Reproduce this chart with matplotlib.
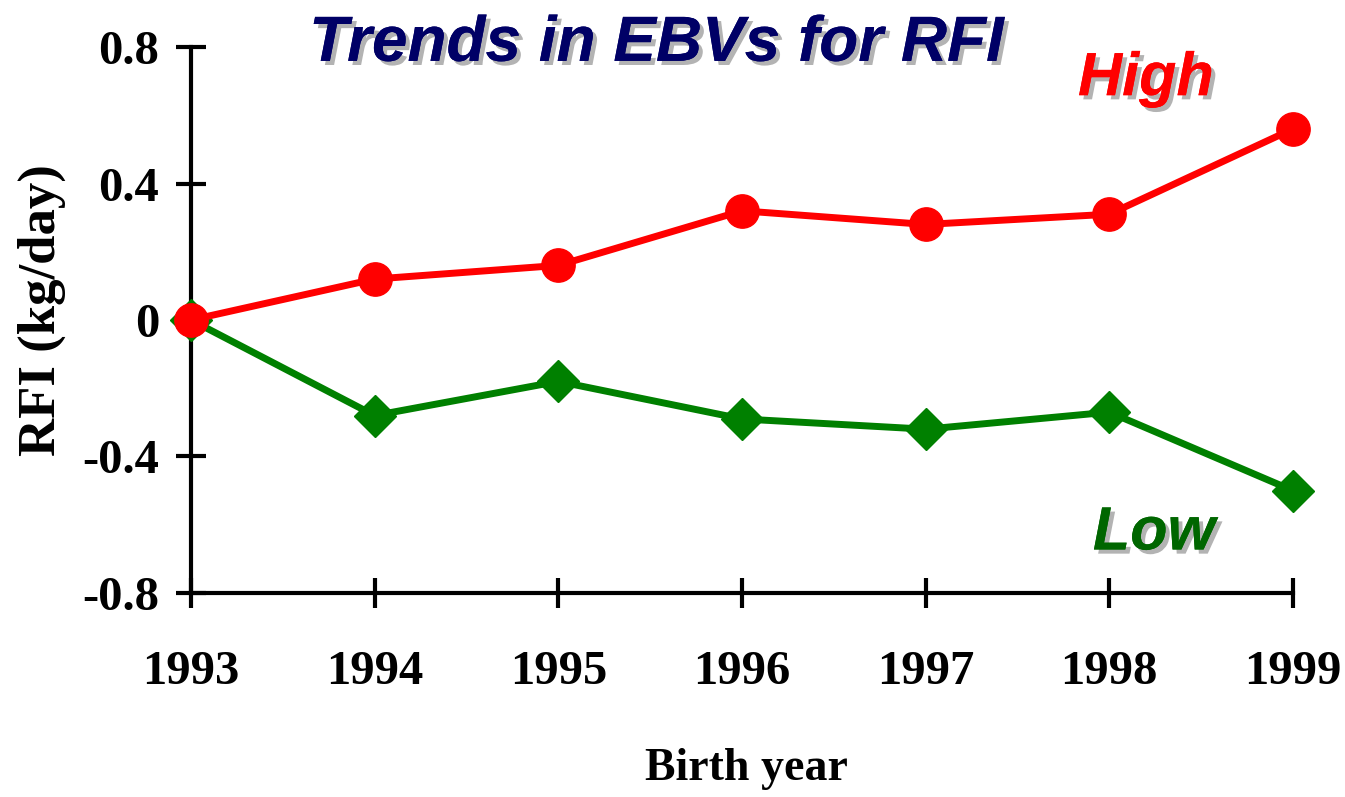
import matplotlib
matplotlib.use("Agg")
import matplotlib.pyplot as plt
import matplotlib.patheffects as pe

years = [1993, 1994, 1995, 1996, 1997, 1998, 1999]
high = [0.0, 0.12, 0.16, 0.32, 0.28, 0.31, 0.56]
low = [0.0, -0.28, -0.18, -0.29, -0.32, -0.27, -0.50]
yticks = [-0.8, -0.4, 0, 0.4, 0.8]
ytick_labels = ["-0.8", "-0.4", "0", "0.4", "0.8"]

fig = plt.figure(figsize=(13.45, 7.97), dpi=100)
ax = fig.add_axes([0.142, 0.256, 0.8193, 0.685])

ax.plot(years, low, color="#008000", lw=5, marker="D", markersize=21,
        clip_on=False, zorder=3)
ax.plot(years, high, color="#ff0000", lw=5, marker="o", markersize=24,
        clip_on=False, zorder=4)

ax.set_xlim(1993, 1999)
ax.set_ylim(-0.8, 0.8)
ax.set_xticks(years)
ax.set_xticklabels([str(y) for y in years])
ax.set_yticks(yticks)
ax.set_yticklabels(ytick_labels)

for s in ["top", "right"]:
    ax.spines[s].set_visible(False)
for s in ["left", "bottom"]:
    ax.spines[s].set_linewidth(3)

serif = "Liberation Serif"
ax.tick_params(axis="both", direction="inout", length=22, width=3)
ax.tick_params(axis="x", pad=30)
ax.tick_params(axis="y", pad=12)
for lab in ax.get_xticklabels() + ax.get_yticklabels():
    lab.set_fontfamily(serif)
    lab.set_fontweight("bold")
    lab.set_fontsize(35)

fig.text(0.031, 0.611, "RFI (kg/day)", rotation=90, ha="center", va="center",
         fontfamily=serif, fontweight="bold", fontsize=38)
fig.text(0.555, 0.035, "Birth year", ha="center", va="center",
         fontfamily=serif, fontweight="bold", fontsize=33)

shadow = [pe.withSimplePatchShadow(offset=(3, -3), shadow_rgbFace="#a0a0a0", alpha=0.8),
          pe.Normal()]
fig.text(0.488, 0.945, "Trends in EBVs for RFI", ha="center", va="center",
         fontfamily="Liberation Sans", fontweight="bold", style="italic",
         fontsize=46, color="#000066", path_effects=shadow)
fig.text(0.852, 0.9, "High", ha="center", va="center",
         fontfamily="Liberation Sans", fontweight="bold", style="italic",
         fontsize=44, color="#ff0000", path_effects=shadow)
fig.text(0.858, 0.33, "Low", ha="center", va="center",
         fontfamily="Liberation Sans", fontweight="bold", style="italic",
         fontsize=44, color="#006600", path_effects=shadow)

fig.savefig("out.png", dpi=100, facecolor="white")
